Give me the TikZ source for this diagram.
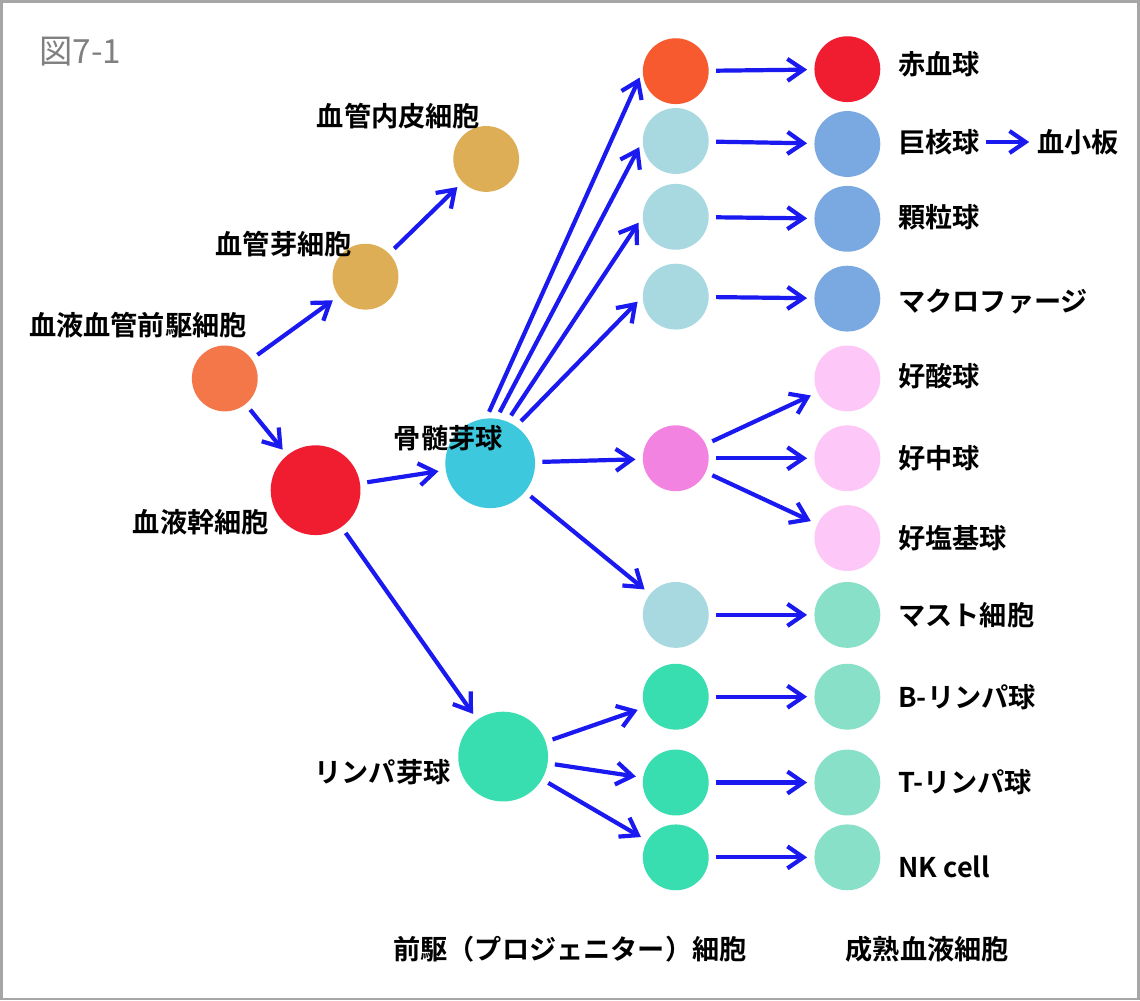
\documentclass[tikz,border=0pt]{standalone}
\usepackage{fontspec}
\newfontfamily\jpfont{Noto Sans CJK JP}[BoldFont={* Bold}]
\usetikzlibrary{arrows.meta}
\definecolor{arrowblue}{HTML}{1A1AF0}
\definecolor{preorange}{HTML}{F4774A}
\definecolor{tan}{HTML}{DDAE55}
\definecolor{stemred}{HTML}{F01C30}
\definecolor{cyanball}{HTML}{3EC8DE}
\definecolor{teal}{HTML}{38DDB0}
\definecolor{redorange}{HTML}{F85A30}
\definecolor{lightblue}{HTML}{A8D8E0}
\definecolor{pinkball}{HTML}{F383E0}
\definecolor{bluegray}{HTML}{7AA8E0}
\definecolor{lightpink}{HTML}{FDC8F8}
\definecolor{mint}{HTML}{88E0C8}
\tikzset{
  cell/.style={circle,inner sep=0pt,minimum size=1.32cm},
  bigcell/.style={circle,inner sep=0pt,minimum size=1.8cm},
  lbl/.style={font=\jpfont\bfseries\fontsize{15.5}{18}\selectfont},
  arr/.style={-{Straight Barb[length=3.2mm,width=4.4mm]},arrowblue,line width=2.4pt,shorten <=4pt,shorten >=4pt}
}
\begin{document}
\begin{tikzpicture}[x=0.02cm,y=-0.02cm]
	\draw [gray!70,line width=1.5pt,fill=white] (0,0) rectangle (1140,1000);
	\node [anchor=west,gray,font=\jpfont\fontsize{19}{22}\selectfont] (title) at (32,50) {図7-1};
	% vascular branch
	\node [cell,fill=preorange] (pre) at (224,378) {};
	\node [cell,fill=tan] (angio) at (365,276) {};
	\node [cell,fill=tan] (endo) at (486,158) {};
	\node [bigcell,fill=stemred] (stem) at (315,490) {};
	\node [bigcell,fill=cyanball] (myelo) at (490,463) {};
	\node [bigcell,fill=teal] (lympho) at (503,757) {};
	\node [lbl] (lpre) at (137,325) {血液血管前駆細胞};
	\node [lbl] (langio) at (283,243) {血管芽細胞};
	\node [lbl] (lendo) at (398,115) {血管内皮細胞};
	\node [lbl] (lstem) at (200,522) {血液幹細胞};
	\node [lbl] (lmyelo) at (448,438) {骨髄芽球};
	\node [lbl] (llympho) at (382,773) {リンパ芽球};
	% progenitors
	\node [cell,fill=redorange] (p1) at (676,70) {};
	\node [cell,fill=lightblue] (p2) at (676,140) {};
	\node [cell,fill=lightblue] (p3) at (676,216) {};
	\node [cell,fill=lightblue] (p4) at (676,296) {};
	\node [cell,fill=pinkball] (p5) at (676,458) {};
	\node [cell,fill=lightblue] (p6) at (676,615) {};
	\node [cell,fill=teal] (p7) at (676,697) {};
	\node [cell,fill=teal] (p8) at (676,783) {};
	\node [cell,fill=teal] (p9) at (676,858) {};
	% mature cells
	\node [cell,fill=stemred] (m1) at (848,68) {};
	\node [cell,fill=bluegray] (m2) at (848,143) {};
	\node [cell,fill=bluegray] (m3) at (848,218) {};
	\node [cell,fill=bluegray] (m4) at (848,298) {};
	\node [cell,fill=lightpink] (m5) at (848,378) {};
	\node [cell,fill=lightpink] (m6) at (848,458) {};
	\node [cell,fill=lightpink] (m7) at (848,538) {};
	\node [cell,fill=mint] (m8) at (848,615) {};
	\node [cell,fill=mint] (m9) at (848,697) {};
	\node [cell,fill=mint] (m10) at (848,783) {};
	\node [cell,fill=mint] (m11) at (848,858) {};
	\node [lbl,anchor=west] (l1) at (893,63) {赤血球};
	\node [lbl,anchor=west] (l2) at (893,141) {巨核球};
	\node [lbl,anchor=west] (l3) at (893,216) {顆粒球};
	\node [lbl,anchor=west] (l4) at (893,301) {マクロファージ};
	\node [lbl,anchor=west] (l5) at (893,376) {好酸球};
	\node [lbl,anchor=west] (l6) at (893,458) {好中球};
	\node [lbl,anchor=west] (l7) at (893,538) {好塩基球};
	\node [lbl,anchor=west] (l8) at (893,615) {マスト細胞};
	\node [lbl,anchor=west] (l9) at (893,697) {B-リンパ球};
	\node [lbl,anchor=west] (l10) at (893,783) {T-リンパ球};
	\node [lbl,anchor=west] (l11) at (893,868) {NK cell};
	\node [lbl,anchor=west] (plate) at (1032,141) {血小板};
	\node [lbl] (lprog) at (570,950) {前駆（プロジェニター）細胞};
	\node [lbl] (lmat) at (928,950) {成熟血液細胞};
	% arrows
	\draw [arr] (pre) -- (angio);
	\draw [arr] (angio) -- (endo);
	\draw [arr] (pre) -- (stem);
	\draw [arr] (stem) -- (myelo);
	\draw [arr] (stem) -- (lympho);
	\draw [arr] (myelo.95) -- (p1.west);
	\draw [arr] (myelo.82) -- (p2.west);
	\draw [arr] (myelo.68) -- (p3.west);
	\draw [arr] (myelo.55) -- (p4.west);
	\draw [arr] (myelo) -- (p5);
	\draw [arr] (myelo) -- (p6);
	\foreach \p in {p7,p8,p9}
		\draw [arr] (lympho) -- (\p);
	\draw [arr] (p1) -- (m1);
	\draw [arr] (p2) -- (m2);
	\draw [arr] (p3) -- (m3);
	\draw [arr] (p4) -- (m4);
	\draw [arr] (p5) -- (m5);
	\draw [arr] (p5) -- (m6);
	\draw [arr] (p5) -- (m7);
	\draw [arr] (p6) -- (m8);
	\draw [arr] (p7) -- (m9);
	\draw [arr] (p8) -- (m10);
	\draw [arr] (p9) -- (m11);
	\draw [arr,shorten <=0pt,shorten >=1pt] (l2) -- (plate);
\end{tikzpicture}
\end{document}
